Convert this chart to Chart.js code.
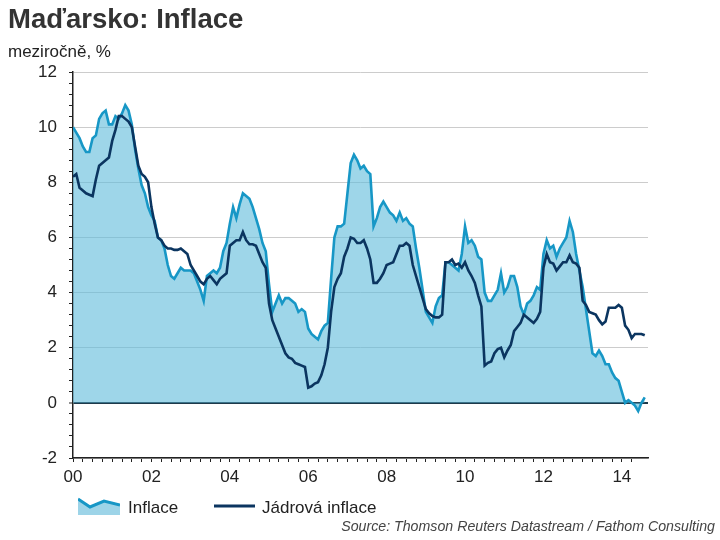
<!DOCTYPE html>
<html>
<head>
<meta charset="utf-8">
<script src="https://cdn.jsdelivr.net/npm/chart.js@4.4.1/dist/chart.umd.min.js"></script>
<style>
  body { margin: 0; width: 720px; height: 540px; position: relative; background: #fff; overflow: hidden;
         font-family: "Liberation Sans", Arial, sans-serif; color: #222; }
  #priceChart { position: absolute; left: 0; top: 0; }
  #title { position: absolute; left: 8px; top: 5px; font-size: 27.5px; font-weight: bold; color: #333; line-height: 1; }
  #subtitle { position: absolute; left: 8px; top: 43px; font-size: 17px; line-height: 1; }
  .legend { position: absolute; top: 498px; font-size: 17px; line-height: 1; }
  .legend svg { position: absolute; top: 0; }
  #source { position: absolute; right: 5px; top: 519px; font-size: 14.2px; font-style: italic; color: #444; line-height: 1; }
</style>
</head>
<body>
<canvas id="priceChart" width="720" height="540"></canvas>
<div id="title">Maďarsko: Inflace</div>
<div id="subtitle">meziročně, %</div>
<div class="legend" style="left:78px;">
  <svg width="42" height="20" style="left:0;top:-3px;">
    <polygon points="0,4 12,12 26,6 42,10 42,20 0,20" fill="#9dd4e8"/>
    <polyline points="0,4 12,12 26,6 42,10" fill="none" stroke="#1797c6" stroke-width="3"/>
  </svg>
  <span style="position:absolute;left:50px;top:1px;white-space:nowrap;">Inflace</span>
</div>
<div class="legend" style="left:214px;">
  <svg width="42" height="20" style="left:0;top:-3px;">
    <line x1="0" y1="11" x2="41" y2="11" stroke="#0b3560" stroke-width="3"/>
  </svg>
  <span style="position:absolute;left:48px;top:1px;white-space:nowrap;">Jádrová inflace</span>
</div>
<div id="source">Source: Thomson Reuters Datastream / Fathom Consulting</div>

<script>
// === Maďarsko: Inflace (meziročně, %), měsíčně 01/2000 - 08/2014 ===

// popisky roků na ose x (každé 2 roky = 24 měsíců)
const YEAR_LABELS = ["00", "02", "04", "06", "08", "10", "12", "14"];

// Inflace (CPI), měsíčně od ledna 2000
const INFLACE = [
  10.0, 9.8, 9.6, 9.3, 9.1, 9.1, 9.6, 9.7, 10.3, 10.5, 10.6, 10.1,   // 2000
  10.1, 10.4, 10.3, 10.5, 10.8, 10.6, 10.1, 9.2, 8.5, 7.9, 7.6, 7.1, // 2001
  6.8, 6.6, 6.0, 5.9, 5.6, 5.0, 4.6, 4.5, 4.7, 4.9, 4.8, 4.8,        // 2002
  4.8, 4.7, 4.4, 4.1, 3.7, 4.6, 4.7, 4.8, 4.7, 4.9, 5.5, 5.8,        // 2003
  6.5, 7.1, 6.7, 7.2, 7.6, 7.5, 7.4, 7.1, 6.7, 6.3, 5.8, 5.5,        // 2004
  4.3, 3.3, 3.6, 3.9, 3.6, 3.8, 3.8, 3.7, 3.6, 3.3, 3.4, 3.3,        // 2005
  2.7, 2.5, 2.4, 2.3, 2.6, 2.8, 2.9, 4.5, 6.0, 6.4, 6.4, 6.5,        // 2006
  7.6, 8.7, 9.0, 8.8, 8.5, 8.6, 8.4, 8.3, 6.4, 6.7, 7.1, 7.3,        // 2007
  7.1, 6.9, 6.8, 6.6, 6.9, 6.6, 6.7, 6.5, 6.4, 5.6, 4.9, 4.1,        // 2008
  3.3, 3.1, 2.9, 3.5, 3.8, 3.9, 5.1, 5.1, 5.0, 4.9, 4.8, 5.4,        // 2009
  6.4, 5.8, 5.9, 5.7, 5.3, 5.2, 4.0, 3.7, 3.7, 3.9, 4.1, 4.7,        // 2010
  4.0, 4.2, 4.6, 4.6, 4.2, 3.5, 3.2, 3.6, 3.7, 3.9, 4.2, 4.1,        // 2011
  5.4, 5.9, 5.6, 5.7, 5.3, 5.6, 5.8, 6.0, 6.6, 6.2, 5.4, 4.8,        // 2012
  4.2, 3.4, 2.6, 1.8, 1.7, 1.9, 1.7, 1.4, 1.4, 1.1, 0.9, 0.8,        // 2013
  0.4, 0.0, 0.1, 0.0, -0.1, -0.3, 0.0, 0.2                           // 2014
];

// Jádrová inflace
const JADROVA = [
  8.2, 8.3, 7.8, 7.7, 7.6, 7.55, 7.5, 8.1, 8.6, 8.7, 8.8, 8.9,         // 2000
  9.5, 9.9, 10.4, 10.4, 10.3, 10.2, 10.0, 9.3, 8.6, 8.3, 8.2, 8.0,     // 2001
  7.1, 6.5, 6.0, 5.9, 5.7, 5.6, 5.6, 5.55, 5.55, 5.6, 5.5, 5.4,        // 2002
  5.0, 4.8, 4.6, 4.4, 4.3, 4.5, 4.6, 4.45, 4.3, 4.5, 4.6, 4.7,         // 2003
  5.7, 5.8, 5.9, 5.9, 6.2, 5.9, 5.75, 5.75, 5.7, 5.4, 5.1, 4.9,        // 2004
  3.6, 3.0, 2.7, 2.4, 2.1, 1.8, 1.65, 1.6, 1.45, 1.4, 1.35, 1.3,       // 2005
  0.55, 0.6, 0.7, 0.75, 1.0, 1.4, 2.0, 3.3, 4.2, 4.5, 4.7, 5.3,        // 2006
  5.6, 6.0, 5.95, 5.8, 5.8, 5.9, 5.6, 5.2, 4.35, 4.35, 4.5, 4.7,       // 2007
  5.0, 5.05, 5.1, 5.4, 5.7, 5.7, 5.8, 5.7, 5.0, 4.6, 4.2, 3.8,         // 2008
  3.4, 3.25, 3.15, 3.1, 3.1, 3.2, 5.1, 5.1, 5.2, 5.0, 5.05, 4.9,       // 2009
  5.1, 4.8, 4.6, 4.35, 3.9, 3.5, 1.35, 1.45, 1.5, 1.8, 1.95, 2.0,      // 2010
  1.65, 1.9, 2.1, 2.6, 2.75, 2.9, 3.2, 3.1, 3.0, 2.9, 3.05, 3.3,       // 2011
  4.9, 5.4, 5.1, 5.05, 4.8, 4.95, 5.1, 5.1, 5.35, 5.1, 5.05, 4.9,      // 2012
  3.7, 3.55, 3.3, 3.25, 3.2, 3.0, 2.85, 2.95, 3.45, 3.45, 3.45, 3.55,  // 2013
  3.45, 2.8, 2.65, 2.35, 2.5, 2.5, 2.5, 2.45                           // 2014
];

// index měsíce od ledna 2000 (osa x)
const MONTHS = INFLACE.map((_, i) => i);

const FONT = "'Liberation Sans', Arial, sans-serif";

function isMajor(v) {
  return Math.abs(v / 2 - Math.round(v / 2)) < 1e-6;
}

const ctx = document.getElementById("priceChart").getContext("2d");
new Chart(ctx, {
  type: "line",
  data: {
    labels: MONTHS,
    datasets: [
      {
        label: "Jádrová inflace",
        data: JADROVA,
        borderColor: "#0b3560",
        borderWidth: 2.6,
        pointRadius: 0,
        fill: false,
        order: 0
      },
      {
        label: "Inflace",
        data: INFLACE,
        borderColor: "#1797c6",
        backgroundColor: "rgba(93, 187, 218, 0.6)",
        borderWidth: 2.6,
        pointRadius: 0,
        fill: "origin",
        order: 1
      }
    ]
  },
  options: {
    responsive: false,
    animation: false,
    devicePixelRatio: 1,
    layout: { padding: { top: 72, right: 72, left: 0, bottom: 0 } },
    plugins: {
      legend: { display: false },
      tooltip: { enabled: false }
    },
    scales: {
      x: {
        type: "linear",
        min: 0,
        max: 176,
        afterFit: (s) => { s.height = 82; },
        afterBuildTicks: (s) => { s.ticks = s.ticks.filter((t) => t.value % 3 === 0); },
        grid: { drawOnChartArea: false, tickLength: 4, tickColor: "#222", tickWidth: 1 },
        border: { color: "#222", width: 1.5 },
        ticks: {
          stepSize: 3,
          autoSkip: false,
          maxRotation: 0,
          padding: 5,
          color: "#222",
          font: { size: 17, family: FONT },
          callback: (v) => (v % 24 === 0 ? YEAR_LABELS[v / 24] : "")
        }
      },
      y: {
        min: -2,
        max: 12,
        afterFit: (s) => { s.width = 73; },
        grid: {
          color: (c) => {
            const v = c.tick ? c.tick.value : NaN;
            if (Math.abs(v) < 1e-6) return "#1e3a4a";
            return isMajor(v) ? "#cccccc" : "rgba(0,0,0,0)";
          },
          lineWidth: (c) => (c.tick && Math.abs(c.tick.value) < 1e-6 ? 2 : 1),
          tickLength: 4,
          tickColor: "#222",
          tickWidth: 1
        },
        border: { color: "#222", width: 1.5 },
        ticks: {
          stepSize: 0.4,
          autoSkip: false,
          padding: 12,
          color: "#222",
          font: { size: 17, family: FONT },
          callback: (v) => (isMajor(v) ? String(Math.round(v)) : "")
        }
      }
    }
  }
});
</script>
</body>
</html>
